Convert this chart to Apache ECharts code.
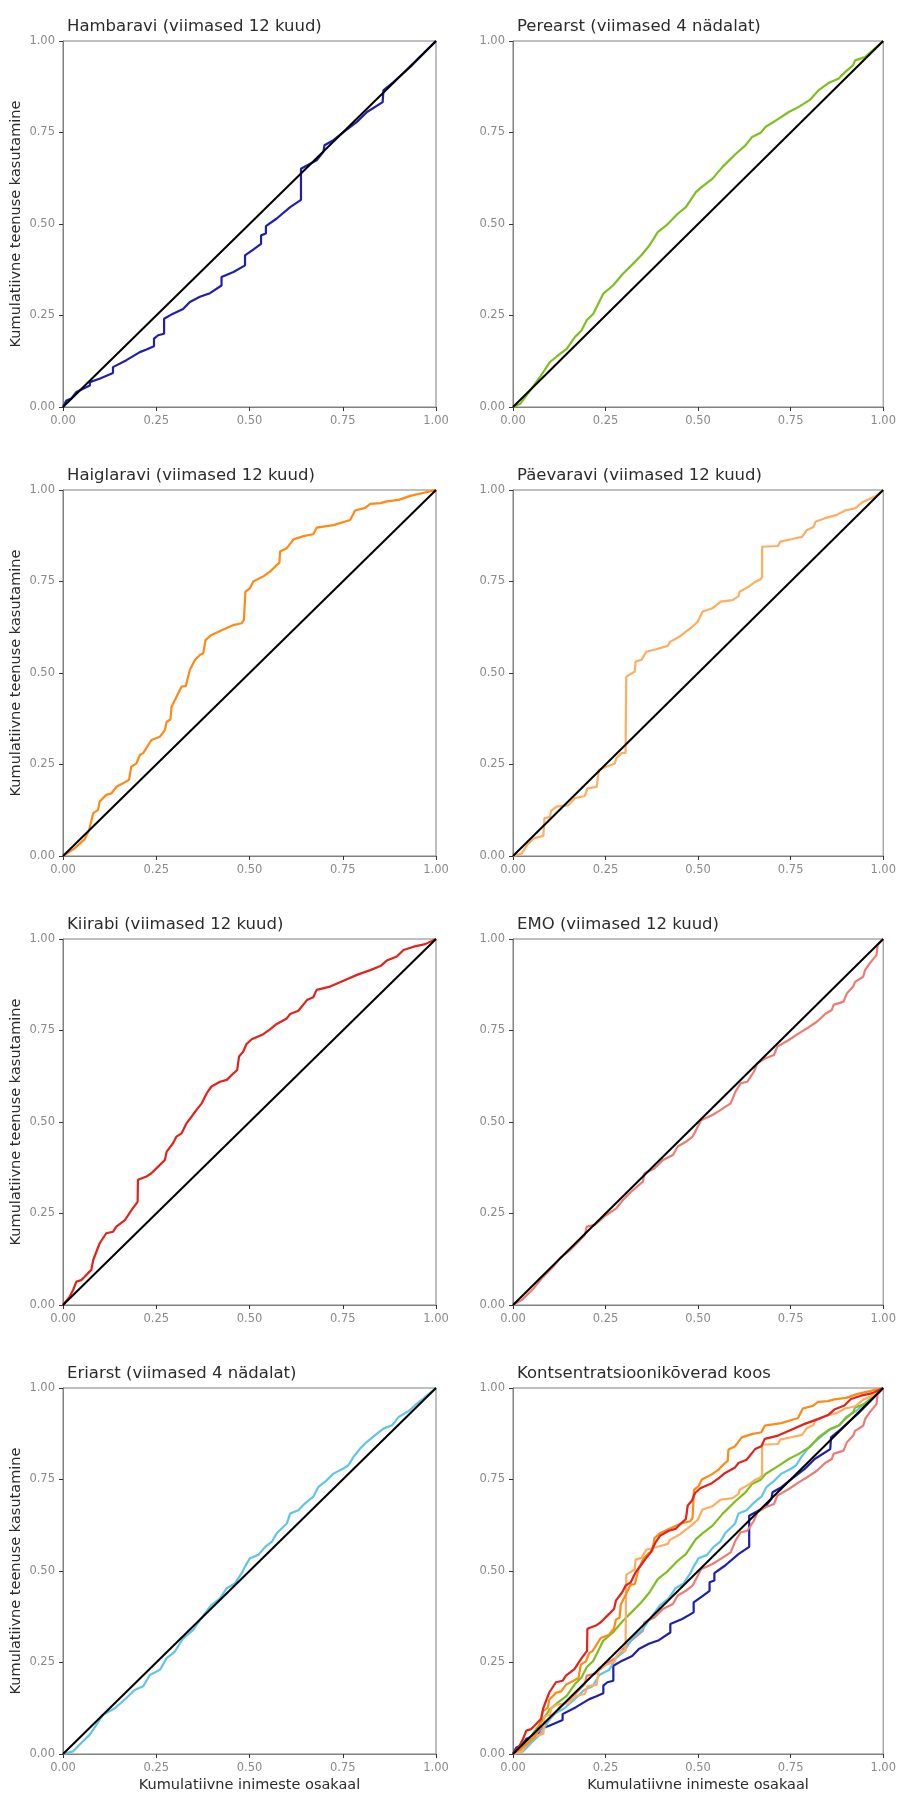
<!DOCTYPE html>
<html>
<head>
<meta charset="utf-8">
<title>Kontsentratsioonikõverad</title>
<script src="https://cdn.jsdelivr.net/npm/echarts@6/dist/echarts.min.js"></script>
<style>
  html, body { margin: 0; padding: 0; background: #ffffff; }
  #chart { width: 899px; height: 1796px; }
</style>
</head>
<body>
<div id="chart"></div>
<script>
// Concentration curves: cumulative share of people (x) vs cumulative service use (y)
const axisTicks = [0, 0.25, 0.5, 0.75, 1];

const hambaravi = [[0,0],[0.009,0.018],[0.022,0.023],[0.036,0.041],[0.054,0.05],[0.072,0.059],[0.072,0.068],[0.098,0.077],[0.134,0.093],[0.134,0.109],[0.17,0.128],[0.206,0.15],[0.224,0.157],[0.244,0.166],[0.244,0.187],[0.255,0.196],[0.271,0.2],[0.271,0.241],[0.295,0.255],[0.322,0.268],[0.34,0.287],[0.367,0.301],[0.394,0.311],[0.425,0.332],[0.425,0.355],[0.457,0.369],[0.488,0.387],[0.488,0.414],[0.51,0.43],[0.531,0.446],[0.531,0.469],[0.544,0.474],[0.544,0.494],[0.573,0.515],[0.609,0.546],[0.638,0.566],[0.638,0.651],[0.654,0.66],[0.68,0.674],[0.698,0.697],[0.701,0.715],[0.725,0.729],[0.752,0.751],[0.788,0.779],[0.815,0.806],[0.857,0.833],[0.859,0.865],[0.886,0.888],[0.931,0.929],[1,1]];

const perearst = [[0,0],[0.02,0.009],[0.047,0.046],[0.073,0.082],[0.1,0.123],[0.118,0.138],[0.145,0.159],[0.167,0.191],[0.185,0.209],[0.199,0.237],[0.217,0.255],[0.244,0.31],[0.27,0.332],[0.297,0.364],[0.32,0.387],[0.346,0.414],[0.369,0.442],[0.391,0.478],[0.414,0.496],[0.445,0.528],[0.467,0.546],[0.494,0.587],[0.512,0.603],[0.539,0.624],[0.566,0.656],[0.602,0.692],[0.628,0.715],[0.646,0.738],[0.669,0.749],[0.682,0.765],[0.718,0.788],[0.745,0.806],[0.772,0.82],[0.803,0.84],[0.825,0.865],[0.852,0.885],[0.879,0.897],[0.897,0.915],[0.919,0.934],[0.924,0.947],[0.951,0.956],[1,1]];

const haiglaravi = [[0,0],[0.031,0.021],[0.058,0.046],[0.07,0.071],[0.081,0.117],[0.094,0.126],[0.098,0.148],[0.116,0.167],[0.13,0.171],[0.143,0.189],[0.161,0.199],[0.177,0.208],[0.183,0.244],[0.197,0.253],[0.206,0.276],[0.215,0.281],[0.237,0.317],[0.26,0.326],[0.273,0.344],[0.278,0.367],[0.288,0.373],[0.291,0.408],[0.3,0.426],[0.318,0.463],[0.329,0.464],[0.34,0.508],[0.354,0.536],[0.367,0.549],[0.376,0.554],[0.382,0.59],[0.398,0.604],[0.421,0.615],[0.457,0.631],[0.479,0.636],[0.485,0.645],[0.489,0.722],[0.501,0.731],[0.51,0.75],[0.537,0.764],[0.555,0.777],[0.573,0.795],[0.58,0.801],[0.582,0.832],[0.6,0.841],[0.618,0.865],[0.645,0.874],[0.671,0.879],[0.68,0.897],[0.725,0.904],[0.77,0.918],[0.783,0.944],[0.81,0.951],[0.824,0.962],[0.851,0.964],[0.868,0.969],[0.9,0.973],[0.931,0.984],[1,1]];

const paevaravi = [[0,0],[0.024,0.007],[0.038,0.03],[0.056,0.048],[0.082,0.055],[0.085,0.103],[0.1,0.107],[0.103,0.124],[0.118,0.135],[0.15,0.139],[0.167,0.158],[0.194,0.164],[0.201,0.185],[0.226,0.189],[0.232,0.235],[0.252,0.244],[0.275,0.253],[0.279,0.267],[0.293,0.281],[0.304,0.282],[0.306,0.49],[0.329,0.504],[0.331,0.531],[0.347,0.536],[0.36,0.558],[0.387,0.565],[0.418,0.574],[0.424,0.585],[0.449,0.599],[0.467,0.613],[0.485,0.627],[0.499,0.64],[0.512,0.668],[0.539,0.677],[0.561,0.695],[0.593,0.699],[0.609,0.71],[0.612,0.722],[0.637,0.736],[0.651,0.747],[0.669,0.756],[0.673,0.763],[0.673,0.845],[0.716,0.847],[0.722,0.859],[0.754,0.866],[0.781,0.872],[0.794,0.891],[0.812,0.899],[0.817,0.913],[0.843,0.923],[0.875,0.932],[0.897,0.944],[0.924,0.95],[0.946,0.968],[0.978,0.982],[1,1]];

const kiirabi = [[0,0],[0.018,0.023],[0.027,0.041],[0.036,0.064],[0.049,0.068],[0.058,0.077],[0.067,0.087],[0.076,0.096],[0.081,0.123],[0.098,0.168],[0.116,0.196],[0.134,0.2],[0.143,0.214],[0.166,0.232],[0.184,0.26],[0.2,0.282],[0.201,0.342],[0.224,0.351],[0.237,0.36],[0.255,0.378],[0.273,0.396],[0.278,0.419],[0.295,0.442],[0.304,0.46],[0.318,0.469],[0.331,0.496],[0.345,0.515],[0.358,0.533],[0.372,0.551],[0.385,0.578],[0.398,0.597],[0.421,0.61],[0.439,0.615],[0.457,0.633],[0.467,0.642],[0.472,0.679],[0.483,0.692],[0.492,0.713],[0.506,0.726],[0.537,0.74],[0.555,0.753],[0.573,0.768],[0.6,0.783],[0.609,0.795],[0.631,0.804],[0.654,0.833],[0.671,0.841],[0.68,0.861],[0.716,0.87],[0.752,0.886],[0.788,0.902],[0.824,0.915],[0.851,0.926],[0.868,0.941],[0.895,0.952],[0.913,0.97],[0.94,0.979],[0.971,0.986],[1,1]];

const emo = [[0,0],[0.024,0.014],[0.056,0.046],[0.078,0.073],[0.109,0.105],[0.127,0.128],[0.154,0.15],[0.172,0.168],[0.194,0.191],[0.199,0.214],[0.221,0.219],[0.252,0.246],[0.279,0.264],[0.297,0.287],[0.32,0.31],[0.351,0.337],[0.355,0.36],[0.382,0.373],[0.405,0.396],[0.432,0.41],[0.445,0.433],[0.467,0.446],[0.485,0.46],[0.508,0.505],[0.539,0.519],[0.561,0.533],[0.588,0.551],[0.601,0.583],[0.615,0.606],[0.633,0.61],[0.651,0.638],[0.66,0.66],[0.682,0.674],[0.705,0.683],[0.714,0.706],[0.745,0.724],[0.772,0.742],[0.799,0.759],[0.821,0.774],[0.843,0.795],[0.861,0.806],[0.866,0.82],[0.893,0.829],[0.902,0.852],[0.919,0.87],[0.924,0.883],[0.946,0.897],[0.951,0.915],[0.964,0.934],[0.982,0.956],[0.985,0.984],[1,1]];

const eriarst = [[0,0],[0.027,0.007],[0.049,0.03],[0.072,0.053],[0.09,0.08],[0.107,0.107],[0.139,0.125],[0.17,0.153],[0.192,0.175],[0.215,0.185],[0.233,0.216],[0.26,0.23],[0.278,0.262],[0.3,0.28],[0.322,0.316],[0.349,0.339],[0.367,0.366],[0.398,0.407],[0.421,0.425],[0.439,0.453],[0.461,0.466],[0.479,0.494],[0.488,0.512],[0.501,0.535],[0.524,0.544],[0.542,0.566],[0.56,0.58],[0.573,0.603],[0.6,0.63],[0.609,0.657],[0.631,0.666],[0.649,0.685],[0.671,0.703],[0.685,0.73],[0.703,0.744],[0.725,0.766],[0.752,0.78],[0.765,0.789],[0.779,0.812],[0.797,0.835],[0.815,0.853],[0.837,0.871],[0.859,0.889],[0.882,0.898],[0.9,0.921],[0.927,0.937],[0.944,0.953],[0.966,0.971],[1,1]];

const equality = [[0,0],[1,1]];

const panels = [
  { title: 'Hambaravi (viimased 12 kuud)', curves: [{ data: hambaravi, color: '#1f1fae' }] },
  { title: 'Perearst (viimased 4 nädalat)', curves: [{ data: perearst, color: '#7fbf1e' }] },
  { title: 'Haiglaravi (viimased 12 kuud)', curves: [{ data: haiglaravi, color: '#ff8a14' }] },
  { title: 'Päevaravi (viimased 12 kuud)', curves: [{ data: paevaravi, color: '#ffad5e' }] },
  { title: 'Kiirabi (viimased 12 kuud)', curves: [{ data: kiirabi, color: '#e3231b' }] },
  { title: 'EMO (viimased 12 kuud)', curves: [{ data: emo, color: '#ee7b72' }] },
  { title: 'Eriarst (viimased 4 nädalat)', curves: [{ data: eriarst, color: '#5ec6e6' }] },
  { title: 'Kontsentratsioonikõverad koos', curves: [
      { data: hambaravi, color: '#1f1fae' },
      { data: emo, color: '#ee7b72' },
      { data: eriarst, color: '#5ec6e6' },
      { data: perearst, color: '#7fbf1e' },
      { data: paevaravi, color: '#ffad5e' },
      { data: haiglaravi, color: '#ff8a14' },
      { data: kiirabi, color: '#e3231b' }
  ] }
];

const colLeft = [63, 513];
const rowTop = [41, 490, 939, 1388];
const plotW = 373;
const plotH = 366;
const fontFamily = '"DejaVu Sans", "Open Sans", sans-serif';

const grids = [], xAxes = [], yAxes = [], titles = [], series = [];

panels.forEach((p, i) => {
  const col = i % 2, row = Math.floor(i / 2);
  grids.push({
    left: colLeft[col], top: rowTop[row], width: plotW, height: plotH,
    show: true, borderColor: '#808080', borderWidth: 1, backgroundColor: 'transparent'
  });
  titles.push({
    text: p.title, left: colLeft[col] - 1, top: rowTop[row] - 28,
    textStyle: { fontFamily, fontSize: 16.5, fontWeight: 'normal', color: '#2b2b2b' }
  });
  const common = {
    gridIndex: i, type: 'value', min: axisTicks[0], max: axisTicks[axisTicks.length - 1],
    interval: axisTicks[1] - axisTicks[0],
    splitLine: { show: false },
    axisLine: { show: true, lineStyle: { color: '#808080', width: 1 } },
    axisTick: { show: true, length: 4, lineStyle: { color: '#333333', width: 1 } },
    axisLabel: { color: '#8a8a8a', fontFamily, fontSize: 11.5, margin: 8,
                 formatter: v => v.toFixed(2) }
  };
  xAxes.push(Object.assign({}, common, {
    name: row === 3 ? 'Kumulatiivne inimeste osakaal' : '',
    nameLocation: 'middle', nameGap: 24,
    nameTextStyle: { fontFamily, fontSize: 14.5, color: '#2b2b2b' },
    axisLabel: Object.assign({}, common.axisLabel, { showMaxLabel: true, showMinLabel: true })
  }));
  yAxes.push(Object.assign({}, common, {
    name: col === 0 ? 'Kumulatiivne teenuse kasutamine' : '',
    nameLocation: 'middle', nameGap: 39,
    nameTextStyle: { fontFamily, fontSize: 14.5, color: '#2b2b2b' }
  }));
  p.curves.forEach(c => {
    series.push({
      type: 'line', xAxisIndex: i, yAxisIndex: i, data: c.data,
      showSymbol: false, symbol: 'none', animation: false,
      lineStyle: { color: c.color, width: 2.2 }, silent: true
    });
  });
  series.push({
    type: 'line', xAxisIndex: i, yAxisIndex: i, data: equality,
    showSymbol: false, symbol: 'none', animation: false,
    lineStyle: { color: '#000000', width: 2 }, silent: true, z: 5
  });
});

const chart = echarts.init(document.getElementById('chart'), null, { renderer: 'canvas' });
chart.setOption({
  backgroundColor: '#ffffff',
  animation: false,
  title: titles,
  grid: grids,
  xAxis: xAxes,
  yAxis: yAxes,
  series: series
});
</script>
</body>
</html>
